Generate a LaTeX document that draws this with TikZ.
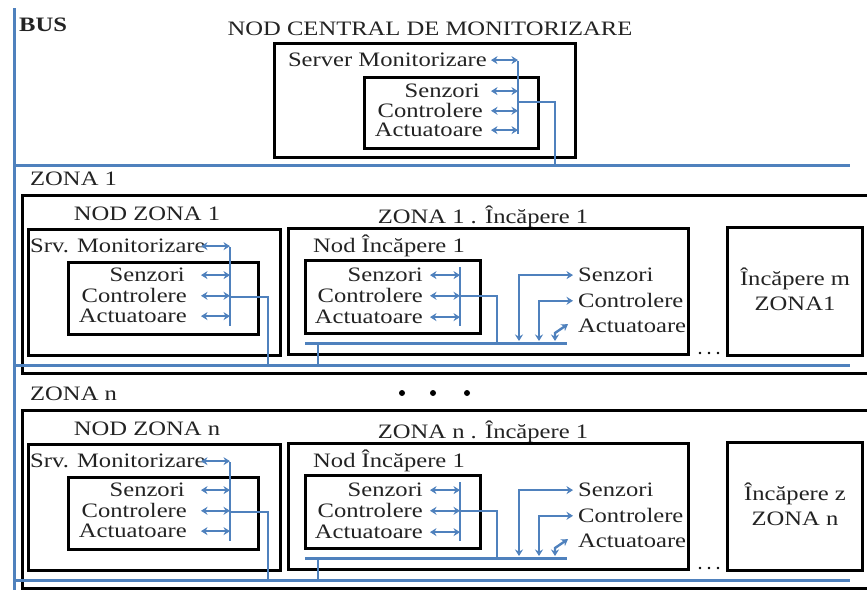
\documentclass[tikz,border=0pt]{standalone}
\usepackage{fontspec}
\setmainfont[FakeStretch=1.2]{Liberation Serif}
\usetikzlibrary{arrows.meta,fit}
\definecolor{busblue}{RGB}{79,129,189}
\definecolor{inkgray}{RGB}{35,35,35}
\begin{document}
\begin{tikzpicture}[x=1pt,y=-1pt,
  lbl/.style={inner sep=0pt, text=inkgray, yshift=-3.5pt, font=\fontsize{20.5}{22}\selectfont},
  boxframe/.style={draw=black, line width=3pt, inner sep=0pt, fit={#1}},
  boxline/.style={draw=black, line width=3pt},
  busline/.style={draw=busblue, line width=3pt},
  wire/.style={draw=busblue, line width=2.4pt},
  twoway/.style={wire, {Stealth[length=6.5pt,width=8pt]}-{Stealth[length=6.5pt,width=8pt]}},
]
\useasboundingbox (0,0) rectangle (867,590);

% main bus: vertical trunk and the branch under the central node
\coordinate (busA) at (14,8);
\coordinate (busB) at (14,590);
\draw[busline] (busA) -- (busB);
\coordinate (mainL) at (14,165);
\coordinate (mainR) at (850,165);
\draw[busline] (mainL) -- (mainR);

\node[lbl, font=\fontsize{20.5}{22}\selectfont\bfseries, anchor=mid west] (buslbl) at (19,26) {BUS};
\node[lbl] (title) at (430,25) {NOD CENTRAL DE MONITORIZARE};

% central monitoring node
\node[boxframe={(274,43) (575,157)}] (central) {};
\node[boxframe={(364,77) (538,148)}] (centralIn) {};
\node[lbl, anchor=mid east] (csrv) at (487,61) {Server Monitorizare};
\node[lbl, anchor=mid east] (csen) at (480,92) {Senzori};
\node[lbl, anchor=mid east] (ccon) at (483,112) {Controlere};
\node[lbl, anchor=mid east] (cact) at (483,131) {Actuatoare};
\coordinate (cvA) at (491,61);
\coordinate (cvT) at (518,61);
\coordinate (cvB) at (518,134);
\draw[wire] (cvT) -- (cvB);
\foreach \n in {csrv,csen,ccon,cact}
  \draw[twoway] (\n.east -| cvA) -- (\n.east -| cvT);
\coordinate (cj) at (518,102);
\coordinate (cdrop) at (555,165);
\draw[wire] (cj) -| (cdrop);

% dots between the zones
\foreach \i/\x in {1/402,2/433,3/467}
  \fill[black] (\x,393) circle (3pt) coordinate (gap\i);

% one block per zone
\foreach \z/\dy/\rn/\rl in {1/0/m/ZONA1, n/215/z/ZONA n}{
\begin{scope}[yshift=-\dy pt]
  \node[lbl, anchor=mid west] (zlbl\z) at (30,180) {ZONA \z};
  \draw[boxline] (867,195) -- (22,195) -- (22,373) -- (867,373);

  % zone node
  \node[lbl] (nzlbl\z) at (147,210) {NOD ZONA \z};
  \node[boxframe={(28,229) (280,355)}] (nz\z) {};
  \node[boxframe={(68,262) (258,334)}] (nzin\z) {};
  \node[lbl, anchor=mid west] (zsrv\z) at (30,247) {Srv. Monitorizare};
  \node[lbl, anchor=mid east] (zsen\z) at (185,276) {Senzori};
  \node[lbl, anchor=mid east] (zcon\z) at (187,297) {Controlere};
  \node[lbl, anchor=mid east] (zact\z) at (187,317) {Actuatoare};
  \coordinate (zvA\z) at (201,247);
  \coordinate (zvT\z) at (230,247);
  \coordinate (zvB\z) at (230,326);
  \draw[wire] (zvT\z) -- (zvB\z);
  \foreach \n in {zsrv,zsen,zcon,zact}
    \draw[twoway] (\n\z.east -| zvA\z) -- (\n\z.east -| zvT\z);
  \coordinate (zj\z) at (230,297);
  \coordinate (zdrop\z) at (268,365);
  \draw[wire] (zj\z) -| (zdrop\z);

  % room 1
  \node[lbl] (rlbl\z) at (483,213) {ZONA \z{} . Încăpere 1};
  \node[boxframe={(288,228) (688,354)}] (room\z) {};
  \node[lbl, anchor=mid west] (rnlbl\z) at (313,247) {Nod Încăpere 1};
  \node[boxframe={(305,260) (480,333)}] (rin\z) {};
  \node[lbl, anchor=mid east] (rsen\z) at (423,276) {Senzori};
  \node[lbl, anchor=mid east] (rcon\z) at (423,297) {Controlere};
  \node[lbl, anchor=mid east] (ract\z) at (423,318) {Actuatoare};
  \coordinate (rvA\z) at (430,276);
  \coordinate (rvT\z) at (460,267);
  \coordinate (rvB\z) at (460,326);
  \draw[wire] (rvT\z) -- (rvB\z);
  \foreach \n in {rsen,rcon,ract}
    \draw[twoway] (\n\z.east -| rvA\z) -- (\n\z.east -| rvT\z);
  \coordinate (rj\z) at (460,296);
  \coordinate (rbW\z) at (305,343);
  \coordinate (rbE\z) at (567,343);
  \draw[wire] (rj\z) -| (rbE\z -| 497,0);
  \draw[busline] (rbW\z) -- (rbE\z);
  \coordinate (rup\z) at (318,343);
  \coordinate (rdown\z) at (318,365);
  \draw[wire] (rup\z) -- (rdown\z);

  % devices of room 1
  \node[lbl, anchor=mid west] (dsen\z) at (578,276) {Senzori};
  \node[lbl, anchor=mid west] (dcon\z) at (578,302) {Controlere};
  \node[lbl, anchor=mid west] (dact\z) at (578,327) {Actuatoare};
  \draw[twoway] (rbE\z -| 519,0) ++(0,-2) |- ([xshift=-5pt]dsen\z.west);
  \draw[twoway] (rbE\z -| 539,0) ++(0,-2) |- ([xshift=-5pt]dcon\z.west);
  \draw[twoway] (rbE\z -| 555,0) ++(0,-2) -- ++(0,-8)
        -- ([shift={(-10pt,2pt)}]dact\z.west);

  % further rooms
  \node[boxframe={(727,227) (862,355)}] (roomLast\z) {};
  \node[lbl] (rla\z) at (795,275) {Încăpere \rn};
  \node[lbl] (rlb\z) at (795,300) {\rl};
  \foreach \x in {700,709,718}
    \fill[black] (\x,353) circle (1.4pt);

  % zone bus
  \coordinate (zbL\z) at (14,365);
  \coordinate (zbR\z) at (850,365);
  \draw[busline] (zbL\z) -- (zbR\z);
\end{scope}
}
\end{tikzpicture}
\end{document}
